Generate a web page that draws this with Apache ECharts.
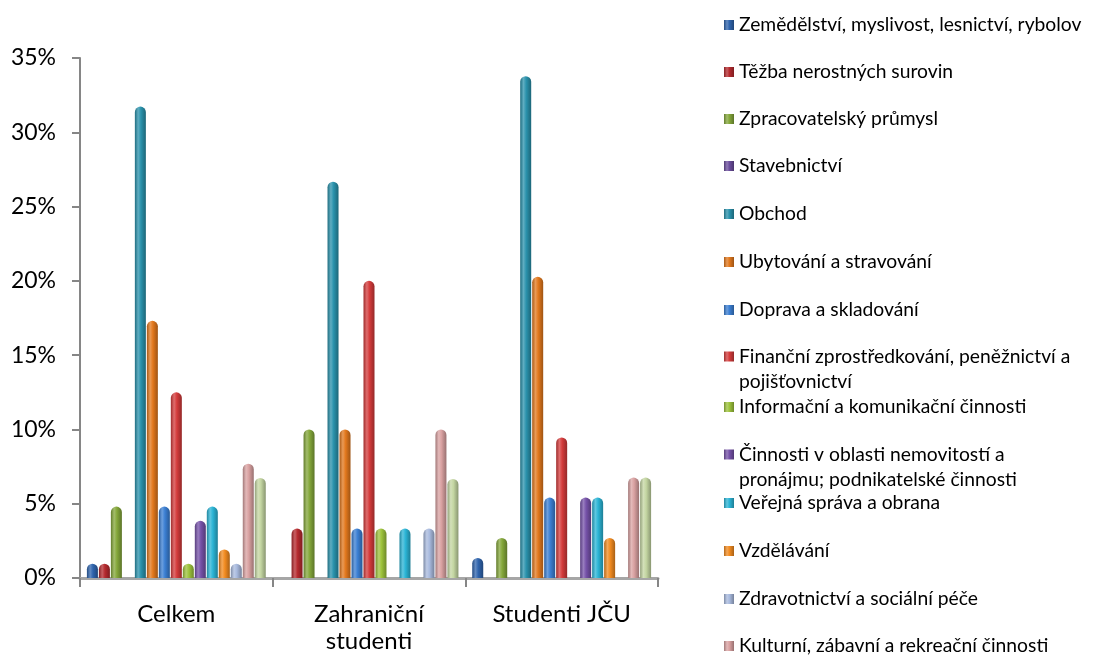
<!DOCTYPE html>
<html>
<head>
<meta charset="utf-8">
<script src="https://cdn.jsdelivr.net/npm/echarts@6/dist/echarts.min.js"></script>
<style>html,body{margin:0;padding:0;background:#fff}#c{width:1093px;height:657px}</style>
</head>
<body>
<div id="c"></div>
<script>
const categories = ['Celkem', 'Zahraniční\nstudenti', 'Studenti JČU'];
const seriesNames = [
  'Zemědělství, myslivost, lesnictví, rybolov',
  'Těžba nerostných surovin',
  'Zpracovatelský průmysl',
  'Stavebnictví',
  'Obchod',
  'Ubytování a stravování',
  'Doprava a skladování',
  'Finanční zprostředkování, peněžnictví a pojišťovnictví',
  'Informační a komunikační činnosti',
  'Činnosti v oblasti nemovitostí a pronájmu; podnikatelské činnosti',
  'Veřejná správa a obrana',
  'Vzdělávání',
  'Zdravotnictví a sociální péče',
  'Kulturní, zábavní a rekreační činnosti',
  'Ostatní'
];
// values in % for [Celkem, Zahraniční studenti, Studenti JČU]
const zemedelstvi = [0.96, 0, 1.35];
const tezba = [0.96, 3.33, 0];
const zpracovatelsky = [4.81, 10.0, 2.70];
const stavebnictvi = [0, 0, 0];
const obchod = [31.73, 26.67, 33.78];
const ubytovani = [17.31, 10.0, 20.27];
const doprava = [4.81, 3.33, 5.41];
const financni = [12.50, 20.0, 9.46];
const informacni = [0.96, 3.33, 0];
const nemovitosti = [3.85, 0, 5.41];
const verejna = [4.81, 3.33, 5.41];
const vzdelavani = [1.92, 0, 2.70];
const zdravotnictvi = [0.96, 3.33, 0];
const kulturni = [7.69, 10.0, 6.76];
const ostatni = [6.73, 6.67, 6.76];
const yTicks = [0, 5, 10, 15, 20, 25, 30, 35];

const allValues = [zemedelstvi, tezba, zpracovatelsky, stavebnictvi, obchod, ubytovani, doprava,
  financni, informacni, nemovitosti, verejna, vzdelavani, zdravotnictvi, kulturni, ostatni];
const colors = ['#2f64ad', '#b52a2e', '#84a73a', '#6b4d9d', '#2a92ac', '#e2781d', '#3b7fd3',
  '#d43b3b', '#9dc33c', '#7551a8', '#2bb4d5', '#f28b20', '#a8bade', '#d9a1a1', '#c4d6a2'];
const legendLabels = {
  'Finanční zprostředkování, peněžnictví a pojišťovnictví': 'Finanční zprostředkování, peněžnictví a\npojišťovnictví',
  'Činnosti v oblasti nemovitostí a pronájmu; podnikatelské činnosti': 'Činnosti v oblasti nemovitostí a\npronájmu; podnikatelské činnosti'
};
const legendCenters = [25, 72, 119, 166, 214, 262, 310, 357, 407, 455, 503, 551, 599, 646];

function shade(hex, f) {
  const n = parseInt(hex.slice(1), 16);
  let r = (n >> 16) & 255, g = (n >> 8) & 255, b = n & 255;
  if (f < 0) { r = r * (1 + f); g = g * (1 + f); b = b * (1 + f); }
  else { r = r + (255 - r) * f; g = g + (255 - g) * f; b = b + (255 - b) * f; }
  return 'rgb(' + Math.round(r) + ',' + Math.round(g) + ',' + Math.round(b) + ')';
}
function grad(c) {
  return new echarts.graphic.LinearGradient(0, 0, 1, 0, [
    { offset: 0, color: shade(c, -0.25) },
    { offset: 0.3, color: shade(c, 0.25) },
    { offset: 0.55, color: c },
    { offset: 1, color: shade(c, -0.3) }
  ]);
}

const FONT = 'Lato, "Open Sans", sans-serif';
const legends = seriesNames.slice(0, 14).map((name, i) => {
  const two = !!legendLabels[name];
  return {
    data: [name],
    left: 724,
    top: legendCenters[i] - 12.5,
    orient: 'vertical',
    selectedMode: false,
    itemWidth: 10,
    itemHeight: two ? 36 : 10,
    itemGap: 0,
    padding: 0,
    icon: two ? 'path://M0,0L10,0L10,10L0,10Z M0,36L0.01,36' : 'rect',
    formatter: n => legendLabels[n] || n,
    textStyle: { fontFamily: FONT, fontSize: 19.3, color: '#000', lineHeight: 25 }
  };
});

const chart = echarts.init(document.getElementById('c'), null, { renderer: 'canvas' });
chart.setOption({
  animation: false,
  backgroundColor: '#ffffff',
  legend: legends,
  grid: { left: 80, right: 435, top: 58, bottom: 79, containLabel: false },
  xAxis: {
    type: 'category',
    data: categories,
    axisLine: { lineStyle: { color: '#a6a6a6', width: 3 } },
    axisTick: { show: true, length: 9, lineStyle: { color: '#868686', width: 2 } },
    axisLabel: { fontFamily: FONT, fontSize: 24, color: '#000', margin: 23, lineHeight: 27 }
  },
  yAxis: {
    type: 'value',
    min: 0, max: 35, interval: 5,
    axisLine: { show: true, lineStyle: { color: '#868686', width: 2 } },
    axisTick: { show: true, length: 8, lineStyle: { color: '#868686', width: 2 } },
    splitLine: { show: false },
    axisLabel: {
      fontFamily: FONT, fontSize: 23, color: '#000', margin: 24,
      formatter: v => yTicks.indexOf(v) >= 0 ? v + '%' : ''
    }
  },
  series: seriesNames.map((name, i) => ({
    name: name,
    type: 'bar',
    data: allValues[i],
    barWidth: 11,
    barGap: '9%',
    itemStyle: { color: grad(colors[i]), borderRadius: [5.5, 5.5, 0, 0] }
  }))
});
</script>
</body>
</html>
